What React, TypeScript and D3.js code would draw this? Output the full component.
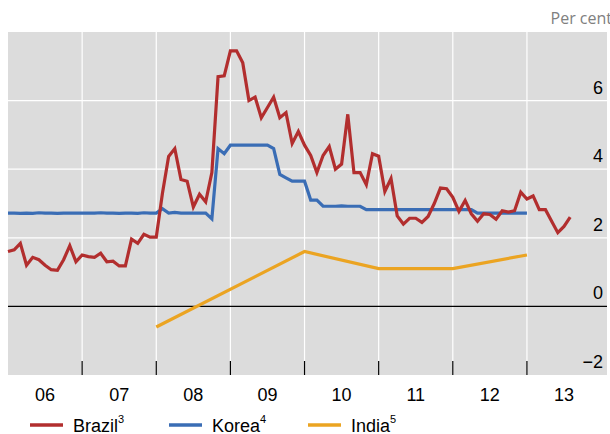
import * as d3 from 'd3';
import React from 'react';

// monthly, starting Jan 2006
const brazil = [
  1.6, 1.65, 1.84, 1.2, 1.43, 1.36, 1.2, 1.07, 1.05, 1.36, 1.77, 1.3,
  1.5, 1.45, 1.43, 1.55, 1.3, 1.32, 1.18, 1.18, 1.96, 1.84, 2.1, 2.02,
  2.02, 3.3, 4.37, 4.6, 3.7, 3.65, 2.9, 3.27, 3.05, 3.9, 6.7, 6.72,
  7.45, 7.45, 7.1, 6.0, 6.1, 5.5, 5.8, 6.1, 5.5, 5.65, 4.75, 5.1,
  4.7, 4.4, 3.9, 4.4, 4.66, 4.0, 4.15, 5.6, 3.9, 3.9, 3.55, 4.45,
  4.38, 3.35, 3.73, 2.64, 2.4, 2.57, 2.57, 2.45, 2.62, 3.0, 3.45, 3.43,
  3.18, 2.77, 3.09, 2.7, 2.48, 2.7, 2.68, 2.54, 2.79, 2.75, 2.79, 3.33,
  3.13, 3.22, 2.82, 2.82, 2.48, 2.15, 2.33, 2.6,
];
const korea = [
  2.72, 2.72, 2.71, 2.72, 2.71, 2.73, 2.72, 2.72, 2.71, 2.72, 2.72, 2.72,
  2.72, 2.72, 2.72, 2.73, 2.72, 2.72, 2.71, 2.72, 2.72, 2.71, 2.73, 2.72,
  2.72, 2.85, 2.72, 2.74, 2.72, 2.72, 2.72, 2.72, 2.72, 2.55, 4.6, 4.45,
  4.7, 4.7, 4.7, 4.7, 4.7, 4.7, 4.7, 4.6, 3.85, 3.75, 3.65, 3.65,
  3.65, 3.1, 3.1, 2.92, 2.92, 2.92, 2.93, 2.92, 2.92, 2.92, 2.82, 2.82,
  2.82, 2.82, 2.82, 2.82, 2.82, 2.82, 2.82, 2.82, 2.82, 2.82, 2.82, 2.82,
  2.82, 2.82, 2.82, 2.82, 2.72, 2.72, 2.72, 2.72, 2.72, 2.72, 2.72, 2.72,
  2.72,
];
const indiaYears = [2008, 2010, 2011, 2012, 2013];
const india = [-0.6, 1.6, 1.1, 1.1, 1.5];
const yearLabels = ['06', '07', '08', '09', '10', '11', '12', '13'];
const yTicks = [-2, 0, 2, 4, 6];

const legend = [
  { name: 'Brazil', sup: '3', color: '#b22e2e' },
  { name: 'Korea', sup: '4', color: '#3a6db5' },
  { name: 'India', sup: '5', color: '#eba422' },
];

export default () => {
  const left = 8, right = 607, top = 32, bottom = 375;
  const x = d3.scaleLinear().domain([2006, 2014.08]).range([left, right]);
  const y = d3.scaleLinear().domain([-2, 8]).range([bottom, top]);
  const line = d3.line<[number, number]>().x(d => x(d[0])).y(d => y(d[1]));
  const monthly = (arr: number[]) => arr.map((v, i) => [2006 + i / 12, v] as [number, number]);
  const bounds = d3.range(2007, 2014);
  const font = 'Liberation Sans, Arial, sans-serif';

  return (
    <svg width={610} height={434} style={{ position: 'absolute', left: 0, top: 0 }} fontFamily={font}>
      <text x={612} y={24} textAnchor="end" fontSize={16} fill="#808080" fontFamily="Open Sans, sans-serif">Per cent</text>
      <rect x={left} y={top} width={right - left} height={bottom - top} fill="#dcdcdc" />
      {bounds.map(b => (
        <line key={b} x1={x(b)} x2={x(b)} y1={top} y2={bottom} stroke="#fff" strokeWidth={1.2} />
      ))}
      {[2, 4, 6].map(t => (
        <line key={t} x1={left} x2={right} y1={y(t)} y2={y(t)} stroke="#fff" strokeWidth={1.2} />
      ))}
      <line x1={left} x2={right} y1={y(0)} y2={y(0)} stroke="#000" strokeWidth={1.2} />
      {bounds.map(b => (
        <line key={'t' + b} x1={x(b)} x2={x(b)} y1={bottom - 14} y2={bottom} stroke="#000" strokeWidth={1.2} />
      ))}
      {yTicks.map(t => (
        <text key={t} x={603} y={y(t) - 7} textAnchor="end" fontSize={18}>{t < 0 ? '\u2212' + Math.abs(t) : t}</text>
      ))}
      {yearLabels.map((l, i) => (
        <text key={l} x={x(2006.5 + i)} y={401} textAnchor="middle" fontSize={18}>{l}</text>
      ))}
      <path d={line(indiaYears.map((yr, i) => [yr, india[i]] as [number, number])) || ''} fill="none" stroke={legend[2].color} strokeWidth={3.2} />
      <path d={line(monthly(korea)) || ''} fill="none" stroke={legend[1].color} strokeWidth={3.2} />
      <path d={line(monthly(brazil)) || ''} fill="none" stroke={legend[0].color} strokeWidth={3.2} />
      {legend.map((s, i) => {
        const lx = 30 + i * 139;
        return (
          <g key={s.name}>
            <line x1={lx} x2={lx + 33} y1={425} y2={425} stroke={s.color} strokeWidth={3.5} />
            <text x={lx + 43} y={432} fontSize={18}>
              {s.name}<tspan fontSize={11} dy={-9}>{s.sup}</tspan>
            </text>
          </g>
        );
      })}
    </svg>
  );
};
